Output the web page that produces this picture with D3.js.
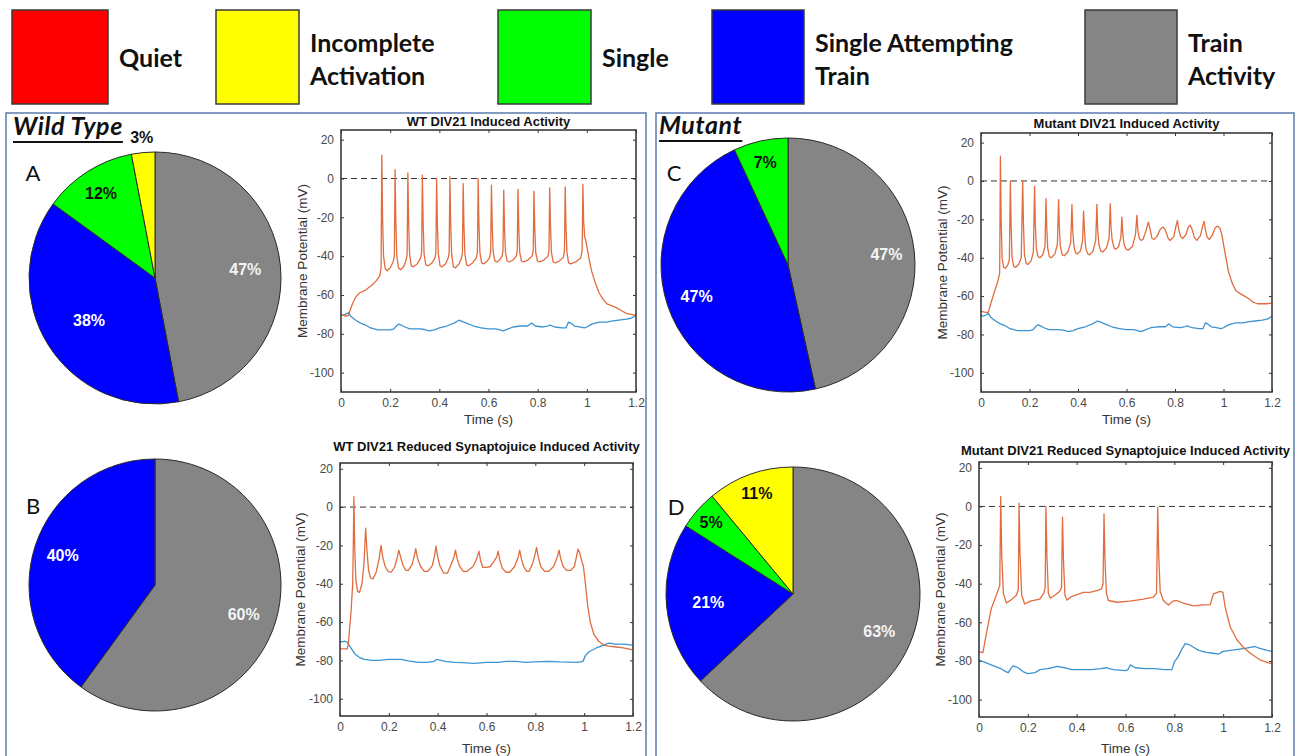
<!DOCTYPE html>
<html><head><meta charset="utf-8">
<script src="https://cdn.jsdelivr.net/npm/d3@7"></script>
<style>
body{margin:0;background:#fff;}
svg{display:block;font-family:"Liberation Sans",Arial,sans-serif;}
</style></head><body>
<svg id="fig" width="1299" height="756"></svg>
<script>
// ---- categories (legend order) ----
const categories = ["Quiet", "Incomplete Activation", "Single", "Single Attempting Train", "Train Activity"];
const legendLines = [["Quiet"], ["Incomplete", "Activation"], ["Single"], ["Single Attempting", "Train"], ["Train", "Activity"]];
const categoryColors = ["#ff0000", "#ffff00", "#00ff00", "#0000ff", "#858585"];

// ---- response-type percentages, in category order ----
const wtInducedPct  = [0, 3, 12, 38, 47];
const wtReducedPct  = [0, 0, 0, 40, 60];
const mutInducedPct = [0, 0, 7, 47, 47];
const mutReducedPct = [0, 11, 5, 21, 63];

// ---- axis ticks ----
const timeTicks = [0, 0.2, 0.4, 0.6, 0.8, 1, 1.2];
const voltageTicks = [-100, -80, -60, -40, -20, 0, 20];

// ---- example traces: [time (s), membrane potential (mV)] ----
const wtInducedStim = [
[0,-70],[0.02,-71],[0.03,-70.5],[0.045,-65],[0.06,-61],[0.075,-59],[0.1,-57.5],[0.125,-55],[0.145,-52.5],[0.158,-50],[0.163,-46],
[0.166,12],[0.169,-20],[0.173,-40],[0.18,-46.5],[0.188,-47.5],[0.2,-46],[0.212,-43],[0.217,-40],
[0.220,4.6],[0.223,-22],[0.227,-40],[0.234,-46],[0.242,-47],[0.255,-45.5],[0.265,-42],[0.269,-39],
[0.272,2.9],[0.275,-22],[0.279,-39],[0.286,-45],[0.294,-45.5],[0.31,-44],[0.324,-41],[0.328,-38],
[0.331,1.7],[0.334,-22],[0.338,-39],[0.345,-44.5],[0.354,-45],[0.37,-43.5],[0.382,-41],[0.386,-38],
[0.389,0],[0.392,-23],[0.396,-39],[0.403,-45],[0.411,-45.5],[0.425,-44],[0.436,-41],[0.44,-38],
[0.443,0.9],[0.446,-23],[0.45,-39],[0.457,-45.5],[0.466,-46],[0.48,-44],[0.49,-41],[0.494,-38],
[0.497,-2.6],[0.5,-24],[0.504,-39],[0.511,-44.5],[0.519,-45],[0.535,-43.5],[0.55,-41],[0.555,-38],
[0.558,0],[0.561,-23],[0.565,-38],[0.572,-43.5],[0.58,-44],[0.595,-42.5],[0.605,-40.5],[0.609,-37],
[0.612,-3.4],[0.615,-24],[0.619,-38],[0.626,-42.5],[0.634,-43],[0.645,-42],[0.655,-40],[0.659,-37],
[0.662,-6],[0.665,-25],[0.669,-38],[0.676,-42.5],[0.684,-43],[0.7,-42],[0.713,-40],[0.717,-37],
[0.720,-5.6],[0.723,-25],[0.727,-38],[0.734,-42.5],[0.742,-43],[0.76,-42],[0.777,-40],[0.782,-37],
[0.785,-6.5],[0.788,-25],[0.792,-38],[0.799,-42.5],[0.807,-43],[0.825,-42],[0.842,-40],[0.846,-37],
[0.849,-4.8],[0.852,-24],[0.856,-38],[0.863,-43],[0.871,-43.5],[0.888,-42.5],[0.905,-40.5],[0.909,-37],
[0.912,-4.3],[0.915,-24],[0.919,-38],[0.926,-43.5],[0.934,-44],[0.955,-43],[0.975,-41],[0.981,-37],
[0.984,-2.9],[0.987,-22],[0.991,-30],[0.996,-32],[1.0,-35],[1.01,-42],[1.02,-48],[1.035,-54],[1.05,-59],[1.065,-62],
[1.08,-64.5],[1.1,-65.5],[1.12,-66.5],[1.14,-68],[1.16,-69.5],[1.18,-70],[1.2,-70.5]
];

const mutInducedStim = [
[0,-68],[0.02,-68.5],[0.03,-68.5],[0.04,-64],[0.055,-58],[0.07,-52],[0.077,-48],
[0.08,12.9],[0.083,-20],[0.087,-40],[0.093,-45],[0.1,-45.5],[0.11,-44],[0.117,-41],
[0.121,0],[0.124,-22],[0.128,-40],[0.135,-44.5],[0.143,-45],[0.155,-43.5],[0.166,-40],
[0.172,0],[0.175,-22],[0.179,-38],[0.186,-43],[0.194,-43.5],[0.207,-41.5],[0.216,-37],
[0.221,-2.8],[0.224,-22],[0.228,-35],[0.235,-39.5],[0.243,-40],[0.255,-38.5],[0.264,-34],
[0.268,-9.2],[0.271,-24],[0.275,-35],[0.282,-39.5],[0.29,-40],[0.305,-38],[0.315,-33],
[0.320,-9.7],[0.323,-24],[0.327,-34],[0.335,-38.5],[0.343,-39],[0.358,-37],[0.37,-32],
[0.375,-12.3],[0.378,-25],[0.383,-34],[0.39,-37.5],[0.398,-38],[0.41,-36.5],[0.419,-31],
[0.423,-15.7],[0.427,-27],[0.432,-35],[0.44,-38],[0.448,-38.5],[0.462,-36.5],[0.473,-31],
[0.478,-12.2],[0.481,-25],[0.486,-33],[0.494,-36.5],[0.502,-37],[0.517,-35],[0.528,-30],
[0.533,-11.8],[0.536,-24],[0.541,-31],[0.549,-35],[0.557,-35.5],[0.568,-34],[0.577,-29],
[0.581,-18.8],[0.585,-28],[0.59,-33],[0.598,-35.5],[0.608,-36],[0.625,-34],[0.637,-28],
[0.643,-17.9],[0.647,-26],[0.653,-30],[0.66,-31],[0.668,-30.5],[0.68,-26],
[0.69,-21.5],[0.697,-25],[0.705,-30],[0.713,-30.5],[0.725,-29],[0.74,-25],
[0.75,-24],[0.76,-25.5],[0.772,-30],[0.78,-31],[0.795,-29],[0.805,-23],
[0.81,-20.5],[0.815,-25],[0.823,-29],[0.832,-30],[0.845,-28],[0.855,-24],
[0.862,-23],[0.87,-25],[0.88,-29.5],[0.89,-31],[0.905,-28.5],[0.915,-23],
[0.92,-21],[0.925,-25],[0.933,-29.5],[0.942,-30.5],[0.955,-28],[0.965,-24.5],
[0.975,-23.5],[0.985,-24.5],[0.993,-28],[1.0,-33],[1.01,-40],[1.02,-47],[1.035,-53],[1.05,-57],[1.065,-58.5],
[1.08,-59.5],[1.1,-61],[1.12,-63],[1.14,-64],[1.16,-64],[1.18,-64],[1.2,-63.5]
];

const wtReducedStim = [
[0,-74],[0.03,-74],[0.035,-70],[0.045,-55],[0.052,-40],[0.055,-15],[0.057,5.5],[0.06,-20],[0.065,-38],[0.072,-44],[0.08,-44.5],[0.09,-40],[0.098,-30],
[0.105,-11],[0.11,-22],[0.117,-33],[0.125,-37],[0.135,-37.5],[0.148,-34],[0.16,-27],
[0.168,-20],[0.175,-26],[0.185,-31],[0.197,-33.5],[0.21,-34],[0.225,-31],[0.235,-26],
[0.241,-22.5],[0.25,-27],[0.26,-31],[0.27,-33],[0.28,-33],[0.295,-30],[0.305,-25],
[0.31,-21.7],[0.318,-27],[0.33,-31],[0.345,-33.5],[0.36,-33.5],[0.378,-30.5],[0.388,-25],
[0.393,-20.3],[0.4,-26],[0.41,-31],[0.425,-34.5],[0.44,-34.5],[0.455,-30],[0.467,-26],
[0.473,-22.5],[0.48,-27],[0.49,-31],[0.505,-33.5],[0.52,-33.5],[0.545,-31],[0.56,-27],
[0.569,-23],[0.576,-28],[0.585,-31.5],[0.6,-31.5],[0.615,-31],[0.63,-28.5],[0.642,-26],
[0.648,-23],[0.655,-28],[0.665,-32],[0.68,-34],[0.695,-34],[0.715,-31],[0.73,-26],
[0.736,-22.5],[0.743,-27],[0.752,-31],[0.765,-33.5],[0.775,-33.5],[0.79,-29],[0.8,-24],
[0.805,-21],[0.812,-26],[0.822,-31],[0.838,-33.5],[0.855,-33.5],[0.875,-31],[0.89,-26],
[0.897,-22.5],[0.904,-27],[0.914,-31],[0.928,-33],[0.945,-33],[0.96,-31],[0.97,-25],
[0.975,-22],[0.982,-24],[0.99,-28],[0.997,-31],[1.005,-40],[1.015,-52],[1.025,-60],[1.04,-66.5],[1.06,-70],
[1.08,-72],[1.1,-72.5],[1.13,-73],[1.16,-73.5],[1.2,-74.5]
];

const mutReducedStim = [
[0,-75.2],[0.016,-75.7],[0.02,-73],[0.03,-66],[0.05,-53],[0.071,-46],[0.085,-41],
[0.089,5.1],[0.093,-25],[0.1,-45],[0.112,-50],[0.13,-48.5],[0.153,-46],[0.161,-43],
[0.164,1.7],[0.168,-25],[0.175,-46],[0.187,-50.5],[0.21,-49],[0.249,-48],[0.265,-45],[0.271,-42],
[0.274,0],[0.278,-25],[0.284,-45],[0.292,-47.5],[0.31,-46],[0.33,-44],[0.338,-42],
[0.342,-5.6],[0.346,-28],[0.352,-46],[0.36,-48.5],[0.38,-46.5],[0.4,-45.8],[0.427,-44.5],[0.454,-44.5],[0.482,-43.6],[0.502,-42.7],[0.508,-40],
[0.512,-3.9],[0.516,-28],[0.522,-45],[0.53,-48.7],[0.564,-49.6],[0.618,-49],[0.673,-48],[0.714,-47],[0.727,-45],
[0.732,-0.5],[0.736,-25],[0.742,-44],[0.755,-48.7],[0.776,-51],[0.795,-49],[0.81,-48.7],[0.837,-50],[0.878,-51.5],
[0.92,-51],[0.947,-50.8],[0.96,-45.3],[0.988,-44],[0.999,-44.5],[1.008,-52],[1.029,-62.4],[1.056,-69],[1.084,-73],
[1.111,-76],[1.152,-79.5],[1.2,-81.5]
];

const ctrlInduced = [
[0,-70],[0.01,-70.5],[0.025,-69.5],[0.03,-69],[0.04,-71],[0.06,-73],[0.08,-74.5],[0.1,-75.5],[0.12,-77],[0.15,-78],
[0.18,-78],[0.2,-78],[0.215,-77.5],[0.225,-76],[0.235,-75],[0.245,-75.5],[0.26,-76.5],[0.28,-77.5],[0.3,-77.5],
[0.32,-77.5],[0.34,-77.8],[0.36,-78.5],[0.38,-78],[0.4,-77],[0.43,-76],[0.46,-74.5],[0.48,-73],[0.49,-73.5],
[0.51,-74.5],[0.54,-76],[0.57,-77],[0.6,-77.5],[0.63,-77.5],[0.66,-78.5],[0.68,-77.5],[0.7,-76.5],[0.73,-76],
[0.76,-76],[0.775,-74.5],[0.79,-76],[0.82,-76.5],[0.84,-76],[0.85,-75.5],[0.87,-76.5],[0.9,-77],[0.915,-77],
[0.925,-74],[0.935,-74.5],[0.95,-76],[0.97,-76.5],[0.99,-77],[1.0,-76.5],[1.02,-75],[1.05,-74],[1.08,-74],
[1.1,-73.5],[1.13,-73],[1.16,-72.5],[1.18,-72],[1.2,-70.5]
];

const ctrlReducedWT = [
[0,-70.5],[0.02,-70],[0.03,-70.5],[0.04,-72.5],[0.06,-76.5],[0.08,-78.5],[0.1,-79.5],[0.13,-80],[0.16,-80],[0.2,-79.5],
[0.25,-79.5],[0.28,-80.2],[0.32,-81],[0.36,-81],[0.385,-80.5],[0.395,-79.5],[0.41,-79.8],[0.43,-80.5],[0.47,-81],
[0.5,-81.2],[0.55,-81.5],[0.6,-81],[0.65,-81],[0.68,-80.5],[0.72,-80.5],[0.76,-81],[0.8,-80.8],[0.85,-80.5],
[0.9,-80.8],[0.97,-81],[0.995,-80.5],[1.005,-77.5],[1.02,-75.5],[1.05,-73.5],[1.08,-72],[1.1,-71],[1.13,-71.5],
[1.16,-71.5],[1.2,-72]
];

const ctrlReducedMut = [
[0,-79.5],[0.03,-81],[0.06,-82.5],[0.09,-84],[0.11,-85.5],[0.12,-86],[0.13,-84],[0.14,-82.5],[0.16,-83.5],[0.18,-85.5],
[0.2,-86.5],[0.23,-86],[0.25,-84.5],[0.28,-84],[0.3,-83.5],[0.32,-82.8],[0.35,-83.5],[0.38,-84.5],[0.42,-84.5],
[0.46,-84.5],[0.5,-84],[0.52,-83.5],[0.55,-84.5],[0.6,-85],[0.61,-84.5],[0.62,-82],[0.64,-83.5],[0.68,-84],
[0.72,-84],[0.76,-84.5],[0.79,-84.5],[0.8,-80.5],[0.815,-78],[0.83,-74],[0.845,-71],[0.86,-71.5],[0.88,-73],
[0.9,-74.5],[0.93,-75.5],[0.96,-76],[0.98,-76.5],[1.0,-75],[1.03,-74.5],[1.06,-74],[1.09,-73.5],[1.11,-73],
[1.13,-72.5],[1.15,-73.5],[1.18,-74.5],[1.2,-75]
];

// ---------------- drawing ----------------
const svg = d3.select("#fig");
const calibri = "Lato, 'Open Sans', sans-serif";
const STIM_COLOR = "#e06d3f", CTRL_COLOR = "#3d93d1";

// legend
const legendLayout = [
  {x: 12, w: 96}, {x: 216, w: 83}, {x: 498, w: 93}, {x: 712, w: 92}, {x: 1085, w: 92}
];
const legend = svg.append("g");
categories.forEach((c, i) => {
  const L = legendLayout[i];
  legend.append("rect").attr("x", L.x).attr("y", 10).attr("width", L.w).attr("height", 94)
    .attr("fill", categoryColors[i]).attr("stroke", "#3a3a3a").attr("stroke-width", 1.5);
  const lines = legendLines[i];
  const t = legend.append("text").attr("x", L.x + L.w + 11).attr("font-family", calibri)
    .attr("font-weight", 700).attr("font-size", 25).attr("fill", "#111");
  lines.forEach((ln, k) => {
    const cy = lines.length === 1 ? 58 : (k === 0 ? 43 : 76);
    t.append("tspan").attr("x", L.x + L.w + 11).attr("y", cy).attr("dy", "0.35em").text(ln);
  });
});

// group frames
svg.append("rect").attr("x", 6).attr("y", 113).attr("width", 640).attr("height", 660)
  .attr("fill", "none").attr("stroke", "#5b7bb0").attr("stroke-width", 1.5);
svg.append("rect").attr("x", 656).attr("y", 113).attr("width", 638).attr("height", 660)
  .attr("fill", "none").attr("stroke", "#5b7bb0").attr("stroke-width", 1.5);

// group headings
[{text: "Wild Type", x: 13, y: 135}, {text: "Mutant", x: 659, y: 134}].forEach(h => {
  const t = svg.append("text").attr("x", h.x).attr("y", h.y).attr("font-family", calibri)
    .attr("font-weight", 700).attr("font-style", "italic").attr("font-size", 25)
    .attr("letter-spacing", 0.6).attr("fill", "#111").text(h.text);
  const w = t.node().getComputedTextLength();
  svg.append("line").attr("x1", h.x).attr("x2", h.x + w).attr("y1", h.y + 7).attr("y2", h.y + 7)
    .attr("stroke", "#111").attr("stroke-width", 2);
});

// pies
const pies = [
  {vals: wtInducedPct,  cx: 155, cy: 278, r: 126, letter: "A", lx: 33, ly: 173, labelR: [0, 1.12, 0.8, 0.62, 0.72]},
  {vals: wtReducedPct,  cx: 155, cy: 585, r: 126, letter: "B", lx: 33, ly: 506, labelR: [0, 0, 0, 0.77, 0.74]},
  {vals: mutInducedPct, cx: 788, cy: 265, r: 127, letter: "C", lx: 674, ly: 173, labelR: [0, 0, 0.83, 0.76, 0.78]},
  {vals: mutReducedPct, cx: 793, cy: 594, r: 127, letter: "D", lx: 676, ly: 507, labelR: [0, 0.84, 0.86, 0.67, 0.74]}
];
const labelFill = ["#111", "#111", "#111", "#fff", "#f4f4f4"];
const pieGen = d3.pie().sort(null).value(d => d.v);
pies.forEach(p => {
  const items = categories.map((c, i) => ({cat: i, v: p.vals[i]})).reverse();
  const arcs = pieGen(items).filter(a => a.data.v > 0);
  const arc = d3.arc().innerRadius(0).outerRadius(p.r);
  const g = svg.append("g").attr("transform", `translate(${p.cx},${p.cy})`);
  g.selectAll("path").data(arcs).join("path")
    .attr("d", arc).attr("fill", a => categoryColors[a.data.cat])
    .attr("stroke", "#2a2a2a").attr("stroke-width", 1);
  g.selectAll("text").data(arcs).join("text")
    .attr("x", a => Math.sin((a.startAngle + a.endAngle) / 2) * p.r * p.labelR[a.data.cat])
    .attr("y", a => -Math.cos((a.startAngle + a.endAngle) / 2) * p.r * p.labelR[a.data.cat])
    .attr("text-anchor", "middle").attr("dy", "0.36em")
    .attr("font-size", 16).attr("font-weight", 700)
    .attr("fill", a => labelFill[a.data.cat])
    .text(a => a.data.v + "%");
  svg.append("text").attr("x", p.lx).attr("y", p.ly).attr("dy", "0.36em").attr("text-anchor", "middle")
    .attr("font-family", calibri).attr("font-size", 22).attr("fill", "#111").text(p.letter);
});

// voltage traces
const plots = [
  {title: "WT DIV21 Induced Activity", stim: wtInducedStim, ctrl: ctrlInduced,
   x0: 341, x1: 636, y0: 130, y1: 392, dom: [-110, 25], titleY: 121, xlabY: 419, ylabX: 302},
  {title: "WT DIV21 Reduced Synaptojuice Induced Activity", stim: wtReducedStim, ctrl: ctrlReducedWT,
   x0: 340, x1: 633, y0: 463, y1: 716, dom: [-109, 23], titleY: 446, xlabY: 748, ylabX: 300},
  {title: "Mutant DIV21 Induced Activity", stim: mutInducedStim, ctrl: ctrlInduced,
   x0: 981, x1: 1272, y0: 133, y1: 392, dom: [-110, 25], titleY: 123, xlabY: 419, ylabX: 942},
  {title: "Mutant DIV21 Reduced Synaptojuice Induced Activity", stim: mutReducedStim, ctrl: ctrlReducedMut,
   x0: 979, x1: 1272, y0: 462, y1: 717, dom: [-109, 23], titleY: 450, xlabY: 748, ylabX: 940}
];
const fmt = d => String(d);
plots.forEach((P, idx) => {
  const x = d3.scaleLinear([0, 1.2], [P.x0, P.x1]);
  const y = d3.scaleLinear(P.dom, [P.y1, P.y0]);
  const g = svg.append("g");
  const clipId = "clip" + idx;
  g.append("clipPath").attr("id", clipId).append("rect")
    .attr("x", P.x0).attr("y", P.y0).attr("width", P.x1 - P.x0).attr("height", P.y1 - P.y0);

  const axStyle = sel => {
    sel.select(".domain").remove();
    sel.selectAll(".tick line").attr("stroke", "#333").attr("stroke-width", 1);
    sel.selectAll(".tick text").attr("fill", "#4a4a4a").attr("font-size", 12)
      .attr("font-family", "'Liberation Sans', Arial, sans-serif");
  };
  g.append("g").attr("transform", `translate(0,${P.y1})`)
    .call(d3.axisBottom(x).tickValues(timeTicks).tickFormat(fmt).tickSizeInner(-3).tickSizeOuter(0).tickPadding(6)).call(axStyle);
  g.append("g").attr("transform", `translate(0,${P.y0})`)
    .call(d3.axisTop(x).tickValues(timeTicks).tickFormat("").tickSizeInner(-3).tickSizeOuter(0)).call(axStyle);
  g.append("g").attr("transform", `translate(${P.x0},0)`)
    .call(d3.axisLeft(y).tickValues(voltageTicks).tickFormat(fmt).tickSizeInner(-3).tickSizeOuter(0).tickPadding(7)).call(axStyle);
  g.append("g").attr("transform", `translate(${P.x1},0)`)
    .call(d3.axisRight(y).tickValues(voltageTicks).tickFormat("").tickSizeInner(-3).tickSizeOuter(0)).call(axStyle);

  // zero reference
  g.append("line").attr("x1", x(0)).attr("x2", x(1.2)).attr("y1", y(0)).attr("y2", y(0))
    .attr("stroke", "#333").attr("stroke-width", 1).attr("stroke-dasharray", "6,4");

  const line = d3.line().x(d => x(d[0])).y(d => y(d[1]));
  const traces = g.append("g").attr("clip-path", `url(#${clipId})`);
  traces.append("path").attr("d", line(P.ctrl)).attr("fill", "none")
    .attr("stroke", CTRL_COLOR).attr("stroke-width", 1.3).attr("stroke-linejoin", "round");
  traces.append("path").attr("d", line(P.stim)).attr("fill", "none")
    .attr("stroke", STIM_COLOR).attr("stroke-width", 1.3).attr("stroke-linejoin", "round");

  // box
  g.append("rect").attr("x", P.x0).attr("y", P.y0).attr("width", P.x1 - P.x0).attr("height", P.y1 - P.y0)
    .attr("fill", "none").attr("stroke", "#3a3a3a").attr("stroke-width", 1.6);

  g.append("text").attr("x", (P.x0 + P.x1) / 2).attr("y", P.titleY).attr("dy", "0.35em")
    .attr("text-anchor", "middle").attr("font-size", 13).attr("font-weight", 700).attr("fill", "#111").text(P.title);
  g.append("text").attr("x", (P.x0 + P.x1) / 2).attr("y", P.xlabY).attr("dy", "0.35em")
    .attr("text-anchor", "middle").attr("font-size", 13.5).attr("fill", "#333").text("Time (s)");
  g.append("text").attr("transform", `translate(${P.ylabX},${(P.y0 + P.y1) / 2}) rotate(-90)`).attr("dy", "0.35em")
    .attr("text-anchor", "middle").attr("font-size", 13.5).attr("fill", "#333").text("Membrane Potential (mV)");
});
</script></body></html>
